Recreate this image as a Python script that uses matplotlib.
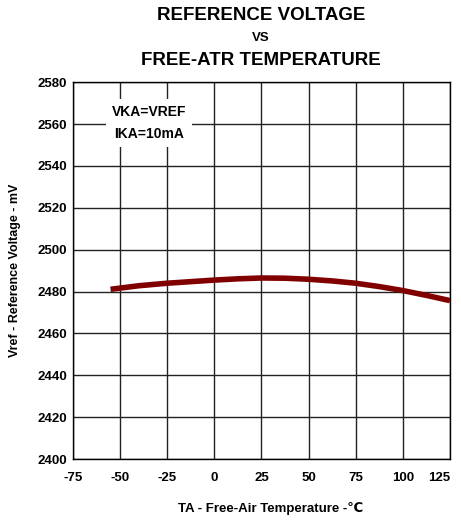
import matplotlib
matplotlib.use("Agg")
import matplotlib.pyplot as plt

temps = [-55, -40, -25, 0, 12.5, 25, 37.5, 50, 62.5, 75, 87.5, 100, 112.5, 125]
vref = [2481.1, 2482.8, 2484.0, 2485.5, 2486.1, 2486.5, 2486.4, 2485.9, 2485.1,
        2484.0, 2482.4, 2480.5, 2478.2, 2475.7]
xticks = [-75, -50, -25, 0, 25, 50, 75, 100, 125]
yticks = [2400, 2420, 2440, 2460, 2480, 2500, 2520, 2540, 2560, 2580]

plt.rcParams['font.family'] = ['Liberation Sans', 'DejaVu Sans']
plt.rcParams['font.weight'] = 'bold'
plt.rcParams['axes.unicode_minus'] = False

fig = plt.figure(figsize=(4.61, 5.2), dpi=100)
ax = fig.add_axes([0.158, 0.117, 0.818, 0.725])
ax.plot(temps, vref, color='#800000', lw=4, solid_capstyle='butt',
        solid_joinstyle='round', zorder=3)
ax.set_xlim(-75, 125)
ax.set_ylim(2400, 2580)
ax.set_xticks(xticks)
ax.set_yticks(yticks)
ax.grid(True, color='#222222', lw=1.0)
ax.tick_params(length=0, labelsize=9.5)
ax.tick_params(axis='x', pad=9)
ax.tick_params(axis='y', pad=4)
for lab in ax.get_xticklabels() + ax.get_yticklabels():
    lab.set_fontweight('bold')
ax.get_xticklabels()[-1].set_horizontalalignment('right')
for s in ax.spines.values():
    s.set_linewidth(1.0)
ax.text(-34.5, 2560.5, "VKA=VREF\nIKA=10mA", ha='center', va='center', fontsize=10,
        fontweight='bold', linespacing=1.75,
        bbox=dict(facecolor='white', edgecolor='none', pad=4), zorder=4)
fig.text(0.586, 0.023, "TA - Free-Air Temperature -\u2103", ha='center', va='center',
         fontsize=9.5, fontweight='bold')
ax.set_ylabel("Vref - Reference Voltage - mV", fontsize=9, fontweight='bold', labelpad=12)

fig.text(0.566, 0.971, "REFERENCE VOLTAGE", ha='center', va='center', fontsize=13.5, fontweight='bold')
fig.text(0.566, 0.927, "VS", ha='center', va='center', fontsize=9.5, fontweight='bold')
fig.text(0.566, 0.884, "FREE-ATR TEMPERATURE", ha='center', va='center', fontsize=13.5, fontweight='bold')
fig.savefig("out.png", dpi=100)
